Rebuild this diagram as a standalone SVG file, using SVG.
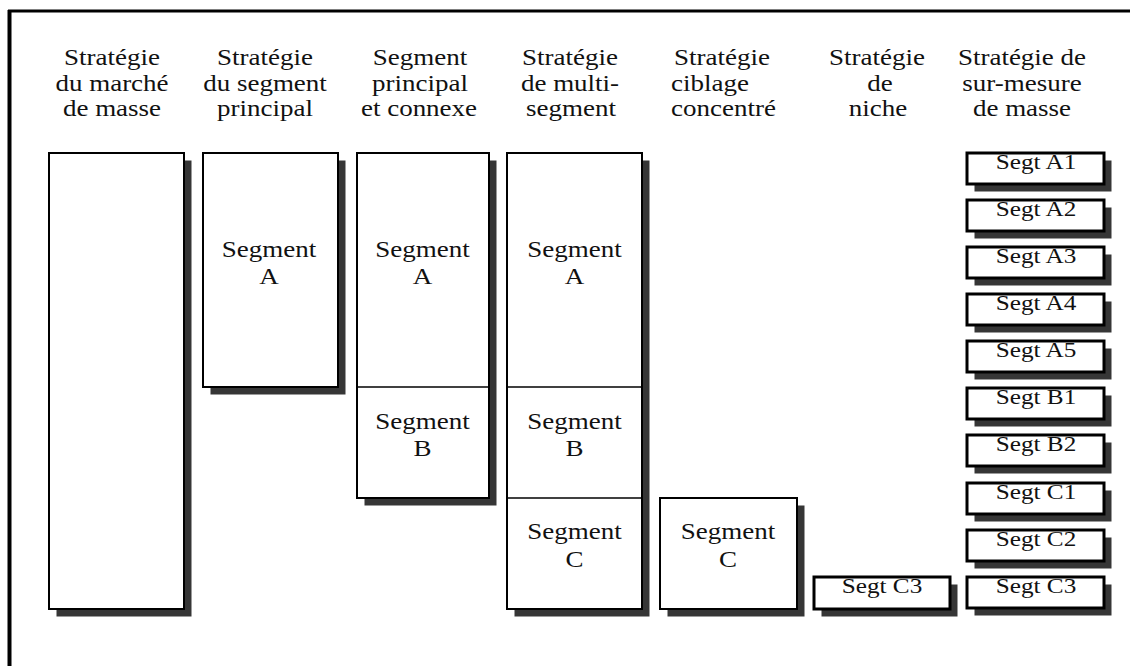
<svg xmlns="http://www.w3.org/2000/svg" width="1130" height="666" viewBox="0 0 1130 666">
<style>
  .t { font-family: "Liberation Serif", "Times New Roman", serif; font-size: 22.5px; fill: #111; text-anchor: middle; }
  .ts { font-family: "Liberation Serif", "Times New Roman", serif; font-size: 21px; fill: #111; text-anchor: middle; }
  .l { text-anchor: start; }
  .sh { fill: #363636; }
  .bx { fill: #fff; stroke: #000; stroke-width: 2; }
  .sb { fill: #fff; stroke: #000; stroke-width: 3; }
  .dv { stroke: #000; stroke-width: 1.5; }
</style>
<rect x="0" y="0" width="1130" height="666" fill="#fff"/>
<g id="frame">
  <line x1="9.5" y1="10" x2="9.5" y2="666" stroke="#000" stroke-width="4"/>
  <line x1="8" y1="11" x2="1130" y2="11" stroke="#000" stroke-width="3"/>
</g>
<g id="headers">
  <text class="t" transform="translate(112,65) scale(1.2,1)">Stratégie</text>
  <text class="t" transform="translate(112,90.5) scale(1.2,1)">du marché</text>
  <text class="t" transform="translate(112,116) scale(1.2,1)">de masse</text>
  <text class="t" transform="translate(265,65) scale(1.2,1)">Stratégie</text>
  <text class="t" transform="translate(265,90.5) scale(1.2,1)">du segment</text>
  <text class="t" transform="translate(265,116) scale(1.2,1)">principal</text>
  <text class="t" transform="translate(420,65) scale(1.2,1)">Segment</text>
  <text class="t" transform="translate(420,90.5) scale(1.2,1)">principal</text>
  <text class="t" transform="translate(419,116) scale(1.2,1)">et connexe</text>
  <text class="t" transform="translate(570,65) scale(1.2,1)">Stratégie</text>
  <text class="t" transform="translate(570,90.5) scale(1.2,1)">de multi-</text>
  <text class="t" transform="translate(571,116) scale(1.2,1)">segment</text>
  <text class="t l" transform="translate(674,65) scale(1.2,1)">Stratégie</text>
  <text class="t l" transform="translate(671,90.5) scale(1.2,1)">ciblage</text>
  <text class="t l" transform="translate(671,116) scale(1.2,1)">concentré</text>
  <text class="t" transform="translate(877,65) scale(1.2,1)">Stratégie</text>
  <text class="t" transform="translate(880,90.5) scale(1.2,1)">de</text>
  <text class="t" transform="translate(878,116) scale(1.2,1)">niche</text>
  <text class="t" transform="translate(1022,65) scale(1.2,1)">Stratégie de</text>
  <text class="t" transform="translate(1022,90.5) scale(1.2,1)">sur-mesure</text>
  <text class="t" transform="translate(1022,116) scale(1.2,1)">de masse</text>
</g>
<g id="mass">
  <rect class="sh" x="56.5" y="160.5" width="135" height="456"/>
  <rect class="bx" x="49" y="153" width="135" height="456"/>
</g>
<g id="principal">
  <rect class="sh" x="210.5" y="160.5" width="135" height="234"/>
  <rect class="bx" x="203" y="153" width="135" height="234"/>
  <text class="t" transform="translate(269,256.7) scale(1.2,1)">Segment</text>
  <text class="t" transform="translate(269,284) scale(1.2,1)">A</text>
</g>
<g id="connexe">
  <rect class="sh" x="364.5" y="160.5" width="132" height="345"/>
  <rect class="bx" x="357" y="153" width="132" height="345"/>
  <line class="dv" x1="357" y1="387" x2="489" y2="387"/>
  <text class="t" transform="translate(422.5,256.7) scale(1.2,1)">Segment</text>
  <text class="t" transform="translate(422.5,284) scale(1.2,1)">A</text>
  <text class="t" transform="translate(422.5,429.3) scale(1.2,1)">Segment</text>
  <text class="t" transform="translate(422.5,456) scale(1.2,1)">B</text>
</g>
<g id="multi">
  <rect class="sh" x="514.5" y="160.5" width="135" height="456"/>
  <rect class="bx" x="507" y="153" width="135" height="456"/>
  <line class="dv" x1="507" y1="387" x2="642" y2="387"/>
  <line class="dv" x1="507" y1="498" x2="642" y2="498"/>
  <text class="t" transform="translate(574.5,256.7) scale(1.2,1)">Segment</text>
  <text class="t" transform="translate(574.5,284) scale(1.2,1)">A</text>
  <text class="t" transform="translate(574.5,429.3) scale(1.2,1)">Segment</text>
  <text class="t" transform="translate(574.5,456) scale(1.2,1)">B</text>
  <text class="t" transform="translate(574.5,539.3) scale(1.2,1)">Segment</text>
  <text class="t" transform="translate(574.5,566.7) scale(1.2,1)">C</text>
</g>
<g id="concentre">
  <rect class="sh" x="667.5" y="505.5" width="137" height="111"/>
  <rect class="bx" x="660" y="498" width="137" height="111"/>
  <text class="t" transform="translate(728,539.3) scale(1.2,1)">Segment</text>
  <text class="t" transform="translate(728,566.7) scale(1.2,1)">C</text>
</g>
<g id="niche">
  <rect class="sh" x="821.5" y="584.5" width="136" height="32"/>
  <rect class="sb" x="814" y="577" width="136" height="32"/>
  <text class="ts" transform="translate(882,593) scale(1.2,1)">Segt C3</text>
</g>
<g id="surmesure">
  <g id="sA1"><rect class="sh" x="974.5" y="160.5" width="137" height="31"/><rect class="sb" x="967" y="153" width="137" height="31"/><text class="ts" transform="translate(1036,169) scale(1.2,1)">Segt A1</text></g>
  <g id="sA2"><rect class="sh" x="974.5" y="207.5" width="137" height="31"/><rect class="sb" x="967" y="200" width="137" height="31"/><text class="ts" transform="translate(1036,216) scale(1.2,1)">Segt A2</text></g>
  <g id="sA3"><rect class="sh" x="974.5" y="254.5" width="137" height="31"/><rect class="sb" x="967" y="247" width="137" height="31"/><text class="ts" transform="translate(1036,263) scale(1.2,1)">Segt A3</text></g>
  <g id="sA4"><rect class="sh" x="974.5" y="301.5" width="137" height="31"/><rect class="sb" x="967" y="294" width="137" height="31"/><text class="ts" transform="translate(1036,310) scale(1.2,1)">Segt A4</text></g>
  <g id="sA5"><rect class="sh" x="974.5" y="348.5" width="137" height="31"/><rect class="sb" x="967" y="341" width="137" height="31"/><text class="ts" transform="translate(1036,357) scale(1.2,1)">Segt A5</text></g>
  <g id="sB1"><rect class="sh" x="974.5" y="395.5" width="137" height="31"/><rect class="sb" x="967" y="388" width="137" height="31"/><text class="ts" transform="translate(1036,404) scale(1.2,1)">Segt B1</text></g>
  <g id="sB2"><rect class="sh" x="974.5" y="442.5" width="137" height="31"/><rect class="sb" x="967" y="435" width="137" height="31"/><text class="ts" transform="translate(1036,451) scale(1.2,1)">Segt B2</text></g>
  <g id="sC1"><rect class="sh" x="974.5" y="490.5" width="137" height="31"/><rect class="sb" x="967" y="483" width="137" height="31"/><text class="ts" transform="translate(1036,499) scale(1.2,1)">Segt C1</text></g>
  <g id="sC2"><rect class="sh" x="974.5" y="537.5" width="137" height="31"/><rect class="sb" x="967" y="530" width="137" height="31"/><text class="ts" transform="translate(1036,546) scale(1.2,1)">Segt C2</text></g>
  <g id="sC3"><rect class="sh" x="974.5" y="584.5" width="137" height="31"/><rect class="sb" x="967" y="577" width="137" height="31"/><text class="ts" transform="translate(1036,593) scale(1.2,1)">Segt C3</text></g>
</g>
<g id="connectors"></g>
</svg>
